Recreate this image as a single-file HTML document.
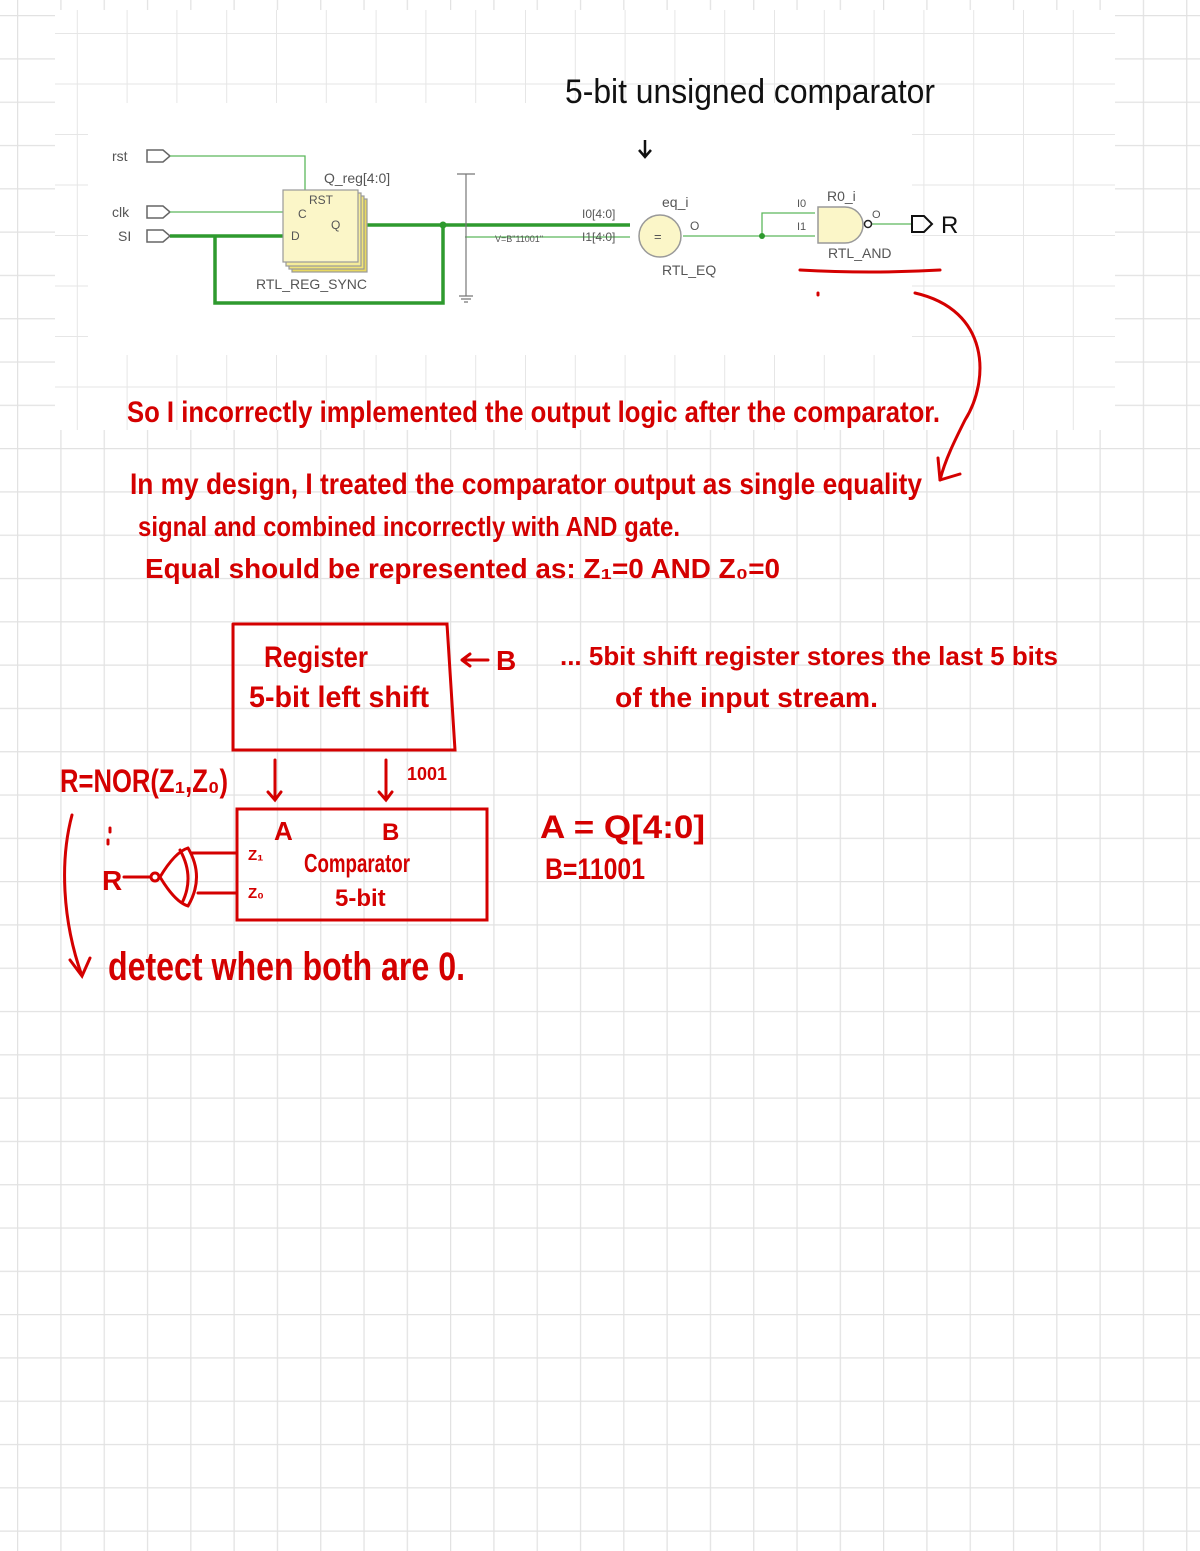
<!DOCTYPE html>
<html><head><meta charset="utf-8"><style>
html,body{margin:0;padding:0;background:#fff;}
svg{display:block;}
.h{font-family:"Liberation Sans Narrow","Liberation Sans",sans-serif;fill:#d40000;font-weight:bold;}
.s{font-family:"Liberation Sans",sans-serif;fill:#555;}
</style></head><body>
<svg width="1200" height="1551" viewBox="0 0 1200 1551" xmlns="http://www.w3.org/2000/svg">
<defs>
<pattern id="g" x="17" y="15" width="43.3" height="43.3" patternUnits="userSpaceOnUse">
<path d="M0 0H43.3M0 0V43.3" stroke="#e2e2e2" stroke-width="2.5" fill="none"/>
</pattern>
<pattern id="g2" x="27" y="33" width="49.8" height="50.5" patternUnits="userSpaceOnUse">
<path d="M0 0H49.8M0 0V50.5" stroke="#e6e6e6" stroke-width="2" fill="none"/>
</pattern>
</defs>
<rect width="1200" height="1551" fill="url(#g)"/>
<rect x="55" y="10" width="1060" height="420" fill="#fff"/>
<rect x="55" y="10" width="1060" height="420" fill="url(#g2)"/>
<rect x="88" y="103" width="824" height="252" fill="#fff"/>

<text x="565" y="103" font-family="Liberation Sans Narrow, Liberation Sans, sans-serif" font-size="34" fill="#111" textLength="370" lengthAdjust="spacingAndGlyphs">5-bit unsigned comparator</text>
<path d="M645 140V157M639 150l6 7 6-7" stroke="#111" stroke-width="2.5" fill="none"/>

<g stroke="#666" fill="#fff" stroke-width="1.5">
<path d="M147 150h16l7 6-7 6h-16z"/>
<path d="M147 206h16l7 6-7 6h-16z"/>
<path d="M147 230h16l7 6-7 6h-16z"/>
</g>
<text class="s" x="112" y="161" font-size="14">rst</text>
<text class="s" x="112" y="217" font-size="14">clk</text>
<text class="s" x="118" y="241" font-size="14">SI</text>
<g fill="none" stroke="#5cb85c" stroke-width="1.3">
<path d="M170 156H305V190"/>
<path d="M170 212H283"/>
<path d="M465 237H630"/>
<path d="M683 236H815M762 236V213H815"/>
<path d="M871 224H912"/>
</g>
<g fill="none" stroke="#2e9a2e" stroke-width="3.5">
<path d="M170 236H283"/>
<path d="M360 225H630"/>
<path d="M443 225V303H215V237"/>
</g>
<circle cx="443" cy="225" r="3.5" fill="#2e9a2e"/>
<circle cx="762" cy="236" r="3" fill="#2e9a2e"/>
<g stroke="#999" stroke-width="1.2">
<rect x="292" y="199" width="75" height="73" fill="#e8d860"/>
<rect x="289" y="196" width="75" height="73" fill="#f0e47a"/>
<rect x="286" y="193" width="75" height="73" fill="#f5ec9a"/>
<rect x="283" y="190" width="75" height="72" fill="#fbf6c8"/>
</g>
<text class="s" x="309" y="204" font-size="12">RST</text>
<text class="s" x="298" y="218" font-size="12">C</text>
<text class="s" x="291" y="240" font-size="12">D</text>
<text class="s" x="331" y="229" font-size="12">Q</text>
<text class="s" x="324" y="183" font-size="14">Q_reg[4:0]</text>
<text class="s" x="256" y="289" font-size="14">RTL_REG_SYNC</text>
<path d="M457 174H475M466 174V296M459 296H473M461 299H471M464 302H468" stroke="#777" stroke-width="1.2" fill="none"/>
<text class="s" x="495" y="242" font-size="9">V=B"11001"</text>
<text class="s" x="582" y="218" font-size="12">I0[4:0]</text>
<text class="s" x="582" y="241" font-size="12">I1[4:0]</text>
<circle cx="660" cy="236" r="21" fill="#fbf6c8" stroke="#999" stroke-width="1.5"/>
<text class="s" x="654" y="241" font-size="13">=</text>
<text class="s" x="662" y="207" font-size="14">eq_i</text>
<text class="s" x="690" y="230" font-size="12">O</text>
<text class="s" x="662" y="275" font-size="14">RTL_EQ</text>
<text class="s" x="797" y="207" font-size="11">I0</text>
<text class="s" x="797" y="230" font-size="11">I1</text>
<path d="M818 207H845A18 18 0 0 1 845 243H818Z" fill="#fbf6c8" stroke="#999" stroke-width="1.5"/>
<circle cx="868" cy="224" r="3.5" fill="#fff" stroke="#222" stroke-width="1.5"/>
<text class="s" x="827" y="201" font-size="14">R0_i</text>
<text class="s" x="872" y="218" font-size="11">O</text>
<text class="s" x="828" y="258" font-size="14">RTL_AND</text>
<path d="M912 216h12l8 8-8 8h-12z" fill="none" stroke="#111" stroke-width="2"/>
<text x="941" y="233" font-family="Liberation Sans, sans-serif" font-size="24" fill="#111">R</text>

<g stroke="#d40000" stroke-width="3" fill="none" stroke-linecap="round">
<path d="M800 270Q870 274 940 270"/>
<path d="M818 293v2"/>
<path d="M915 293C990 310 990 380 965 420C955 440 945 460 940 480"/>
<path d="M940 480l-2-22M940 480l20-6"/>
<path d="M233 624H447V626M447 624L455 750H233V624"/>
<path d="M462 660H488M462 660l8-6M462 660l8 6"/>
<path d="M275 760V800M268 792l7 8 6-8"/>
<path d="M386 760V800M379 792l7 8 6-8"/>
<rect x="237" y="809" width="250" height="111"/>
<path d="M237 853H192M237 893H198"/>
<path d="M188 848Q205 877 188 906M188 848Q175 852 160 877Q175 902 188 906M180 850Q195 877 182 903"/>
<circle cx="155" cy="877" r="4"/>
<path d="M124 877H150"/>
<path d="M110 828v4M108 840v4"/>
<path d="M72 815C60 860 62 920 82 976M70 960l12 16 8-18"/>
</g>
<text class="h" x="127" y="422" font-size="30" textLength="813" lengthAdjust="spacingAndGlyphs">So I incorrectly implemented the output logic after the comparator.</text>
<text class="h" x="130" y="494" font-size="30" textLength="792" lengthAdjust="spacingAndGlyphs">In my design, I treated the comparator output as single equality</text>
<text class="h" x="138" y="536" font-size="28" textLength="542" lengthAdjust="spacingAndGlyphs">signal and combined incorrectly with AND gate.</text>
<text class="h" x="145" y="578" font-size="28" textLength="635" lengthAdjust="spacingAndGlyphs">Equal should be represented as: Z₁=0 AND Z₀=0</text>
<text class="h" x="264" y="667" font-size="30" textLength="104" lengthAdjust="spacingAndGlyphs">Register</text>
<text class="h" x="249" y="707" font-size="30" textLength="180" lengthAdjust="spacingAndGlyphs">5-bit left shift</text>
<text class="h" x="496" y="670" font-size="28">B</text>
<text class="h" x="560" y="665" font-size="26" textLength="498" lengthAdjust="spacingAndGlyphs">... 5bit shift register stores the last 5 bits</text>
<text class="h" x="615" y="707" font-size="28" textLength="263" lengthAdjust="spacingAndGlyphs">of the input stream.</text>
<text class="h" x="60" y="792" font-size="32" textLength="168" lengthAdjust="spacingAndGlyphs">R=NOR(Z₁,Z₀)</text>
<text class="h" x="407" y="780" font-size="18">1001</text>
<text class="h" x="274" y="840" font-size="26">A</text>
<text class="h" x="382" y="840" font-size="24">B</text>
<text class="h" x="304" y="872" font-size="26" textLength="106" lengthAdjust="spacingAndGlyphs">Comparator</text>
<text class="h" x="335" y="906" font-size="24">5-bit</text>
<text class="h" x="248" y="860" font-size="15">Z₁</text>
<text class="h" x="248" y="898" font-size="15">Z₀</text>
<text class="h" x="102" y="890" font-size="28">R</text>
<text class="h" x="540" y="838" font-size="32" textLength="165" lengthAdjust="spacingAndGlyphs">A = Q[4:0]</text>
<text class="h" x="545" y="879" font-size="30" textLength="100" lengthAdjust="spacingAndGlyphs">B=11001</text>
<text class="h" x="108" y="980" font-size="40" textLength="357" lengthAdjust="spacingAndGlyphs">detect when both are 0.</text>
</svg>
</body></html>
